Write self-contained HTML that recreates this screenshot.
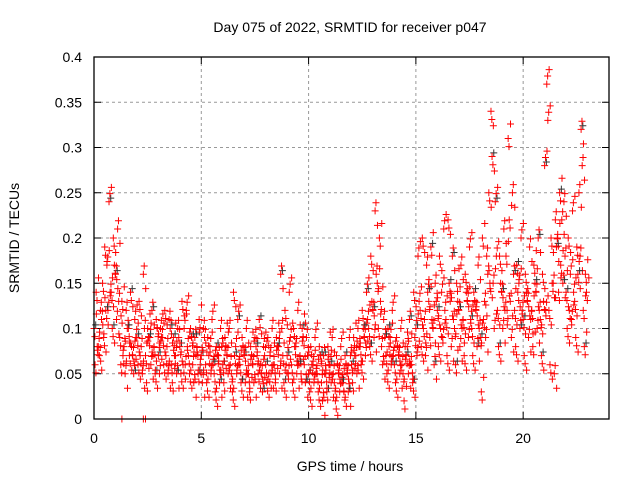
<!DOCTYPE html>
<html><head><meta charset="utf-8"><style>
body{margin:0;background:#fff}
svg{display:block;font-family:"Liberation Sans",sans-serif}
</style></head><body>
<svg id="chart" width="640" height="480">
<text x="350" y="32" text-anchor="middle" font-size="14">Day 075 of 2022, SRMTID for receiver p047</text>
<text x="350" y="471" text-anchor="middle" font-size="14">GPS time / hours</text>
<text transform="translate(19,238) rotate(-90)" text-anchor="middle" font-size="14">SRMTID / TECUs</text>
<g id="grid"></g><g id="ticks"></g><g id="pts"></g>
<rect x="94" y="57" width="515" height="362" fill="none" stroke="#000" stroke-width="1.3"/>
</svg>
<script>
const xTicks=[0,5,10,15,20];
const yTicks=[0,0.05,0.1,0.15,0.2,0.25,0.3,0.35,0.4];
const yTickLabels=["0","0.05","0.1","0.15","0.2","0.25","0.3","0.35","0.4"];
const times=[];for(let i=0;i<115;i++)times.push(+(i*0.2).toFixed(1));
const s1=[.10,.08,.15,.17,.14,.16,.09,.08,.10,.07,.09,.08,.07,.09,.08,
.07,.09,.08,.06,.07,.08,.10,.07,.06,.08,.07,.06,.08,.05,.07,
.06,.07,.05,.08,.06,.07,.05,.06,.07,.05,.06,.07,.06,.08,.07,
.07,.06,.08,.07,.06,.05,.06,.05,.04,.05,.06,.04,.05,.04,.05,
.06,.07,.08,.09,.10,.12,.15,.08,.07,.09,.06,.07,.05,.08,.06,
.10,.12,.11,.13,.10,.12,.14,.11,.13,.10,.12,.11,.13,.10,.12,
.09,.13,.25,.15,.12,.14,.18,.13,.12,.15,.11,.13,.12,.14,.11,
.28,.12,.15,.20,.22,.14,.16,.13,.25,.12];
const s2=[.06,.07,.09,.12,.10,.11,.06,.05,.07,.05,.06,.05,.04,.06,.05,
.05,.06,.05,.04,.05,.05,.06,.05,.04,.05,.04,.04,.05,.03,.04,
.04,.05,.03,.05,.04,.04,.03,.04,.05,.03,.04,.05,.04,.05,.04,
.05,.04,.05,.05,.04,.03,.04,.03,.02,.03,.04,.02,.03,.03,.03,
.04,.05,.06,.07,.08,.09,.10,.06,.05,.06,.04,.05,.02,.05,.04,
.07,.08,.07,.09,.06,.08,.09,.07,.08,.06,.08,.07,.09,.07,.08,
.03,.09,.15,.10,.08,.10,.12,.09,.08,.10,.07,.09,.08,.10,.07,
.12,.06,.05,.14,.15,.10,.11,.09,.18,.08];
const s3=[.14,.12,.19,.24,.20,.21,.13,.12,.14,.11,.13,.16,.10,.12,.11,
.10,.12,.11,.09,.10,.13,.12,.10,.09,.11,.10,.09,.11,.08,.10,
.09,.10,.14,.11,.09,.10,.08,.09,.11,.08,.09,.10,.09,.16,.12,
.14,.10,.12,.10,.09,.08,.09,.08,.07,.08,.09,.07,.08,.07,.09,
.09,.10,.12,.14,.18,.23,.20,.11,.10,.12,.09,.10,.08,.11,.14,
.18,.20,.17,.19,.15,.18,.21,.22,.18,.15,.17,.16,.19,.14,.17,
.20,.18,.34,.24,.18,.21,.31,.25,.17,.20,.16,.19,.17,.20,.16,
.37,.20,.22,.25,.24,.20,.23,.19,.32,.16];
const s4=[.08,.11,.12,.14,.17,.13,.07,.10,.08,.09,.07,.10,.09,.07,.10,
.09,.07,.10,.07,.09,.06,.08,.09,.07,.06,.09,.07,.06,.07,.08,
.08,.06,.07,.06,.08,.05,.07,.08,.06,.07,.05,.06,.08,.10,.06,
.09,.08,.06,.09,.07,.06,.05,.07,.05,.06,.05,.06,.04,.06,.07,
.07,.08,.10,.11,.13,.16,.13,.09,.08,.07,.08,.06,.07,.06,.09,
.13,.10,.14,.11,.13,.10,.12,.15,.11,.13,.10,.14,.11,.13,.10,
.11,.16,.29,.18,.15,.12,.22,.16,.14,.12,.14,.11,.15,.12,.13,
.33,.15,.19,.17,.18,.12,.14,.16,.28,.14];
const zeroTimes=[1.3,2.3,2.4];
const zeroVals=[0,0,0];
const X=t=>94+t*(515/24), Y=v=>419-v*(362/0.4);
const NS="http://www.w3.org/2000/svg";
const grid=document.getElementById('grid'),ticks=document.getElementById('ticks'),pts=document.getElementById('pts');
function mk(tag,attrs,parent){const e=document.createElementNS(NS,tag);for(const k in attrs)e.setAttribute(k,attrs[k]);parent.appendChild(e);return e;}
xTicks.forEach(t=>{const x=X(t);
 if(t>0){const g=mk('line',{x1:x,x2:x,y1:57,y2:419,stroke:'#999','stroke-dasharray':'3,3'},grid);
 
 }
 mk('line',{x1:x,x2:x,y1:419,y2:412,stroke:'#000'},ticks);mk('line',{x1:x,x2:x,y1:57,y2:64,stroke:'#000'},ticks);
 const l=mk('text',{x:x,y:443,'text-anchor':'middle','font-size':14},ticks);l.textContent=t;
 
 });
yTicks.forEach((v,i)=>{const y=Y(v);
 if(i>0&&i<yTicks.length-1){const g=mk('line',{x1:94,x2:609,y1:y,y2:y,stroke:'#999','stroke-dasharray':'3,3'},grid);
 
 }
 mk('line',{x1:94,x2:101,y1:y,y2:y,stroke:'#000'},ticks);mk('line',{x1:609,x2:602,y1:y,y2:y,stroke:'#000'},ticks);
 const l=mk('text',{x:82,y:y+5,'text-anchor':'end','font-size':14},ticks);l.textContent=yTickLabels[i];
 
 });
function plus(t,v,col){const x=X(t),y=Y(v);
 const p=mk('path',{d:`M${x-3.5},${y}h7M${x},${y-3.5}v7`,stroke:col,'stroke-width':1,fill:'none'},pts);
 
 }
const series=[[s1,0],[s2,0.05],[s3,0.1],[s4,0.15]];
series.forEach(([arr,off],si)=>arr.forEach((v,i)=>{
 if((i+si)%5===0)plus(times[i]+off+0.08,v+0.004,'#333');
 plus(times[i]+off,v,'#f00');
 plus(times[i]+off+0.04,v+((i%2)?0.009:-0.009),'#f00');
 plus(times[i]+off+0.11,v+((i%3)?-0.016:0.016),'#f00');}));
zeroTimes.forEach((t,i)=>plus(t,zeroVals[i],'#f00'));
</script>
</body></html>
